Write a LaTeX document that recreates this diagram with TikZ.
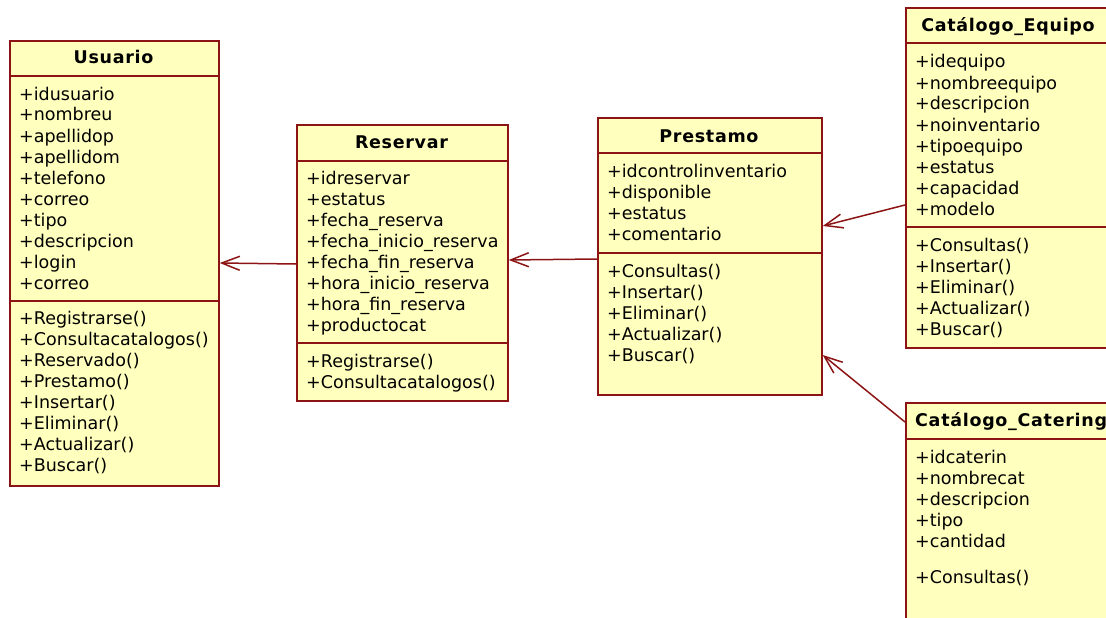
\documentclass[tikz,border=0pt]{standalone}
\usepackage{fontspec}
\setmainfont{DejaVu Sans}
\newfontfamily\titulofont{DejaVu Sans}[LetterSpace=4]
\usetikzlibrary{arrows.meta}
\definecolor{borde}{RGB}{140,20,20}
\definecolor{fondo}{RGB}{255,255,190}

\tikzset{
  clase/.style={draw=borde, fill=fondo, line width=1.7pt, anchor=north west, inner sep=0pt},
  titulo/.style={anchor=base, inner sep=0pt, font=\fontsize{17.5}{20}\titulofont\bfseries},
  campo/.style={anchor=base west, inner sep=0pt, font=\fontsize{17.5}{21}\selectfont},
  linea/.style={draw=borde, line width=1.4pt},
  asoc/.style={draw=borde, line width=1.5pt, -{Straight Barb[length=18pt,width=14pt]}}
}

\begin{document}
\begin{tikzpicture}[x=1pt,y=-1pt]
  \useasboundingbox (0,0) rectangle (1106,618);
  \clip (0,0) rectangle (1106,618);

  % Usuario
  \node[clase, minimum width=209pt, minimum height=445pt] (usuario) at (9,40) {};
  \node[titulo] at (113.5,64) {Usuario};
  \draw[linea] (usuario.west |- 0,76) -- (usuario.east |- 0,76);
  \draw[linea] (usuario.west |- 0,301) -- (usuario.east |- 0,301);
  \foreach \t [count=\i] in {idusuario, nombreu, apellidop, apellidom, telefono,
      correo, tipo, descripcion, login, correo}
    \node[campo] at (19,{100+21*(\i-1)}) {+\t};
  \foreach \t [count=\i] in {Registrarse(), Consultacatalogos(), Reservado(), Prestamo(),
      Insertar(), Eliminar(), Actualizar(), Buscar()}
    \node[campo] at (19,{324+21*(\i-1)}) {+\t};

  % Reservar
  \node[clase, minimum width=211pt, minimum height=276pt] (reservar) at (296,124) {};
  \node[titulo] at (401.5,148) {Reservar};
  \draw[linea] (reservar.west |- 0,161) -- (reservar.east |- 0,161);
  \draw[linea] (reservar.west |- 0,343) -- (reservar.east |- 0,343);
  \foreach \t [count=\i] in {idreservar, estatus, fecha\_reserva, fecha\_inicio\_reserva,
      fecha\_fin\_reserva, hora\_inicio\_reserva, hora\_fin\_reserva, productocat}
    \node[campo] at (306,{184+21*(\i-1)}) {+\t};
  \foreach \t [count=\i] in {Registrarse(), Consultacatalogos()}
    \node[campo] at (306,{367+21*(\i-1)}) {+\t};

  % Prestamo
  \node[clase, minimum width=224pt, minimum height=277pt] (prestamo) at (597,117) {};
  \node[titulo] at (709,142) {Prestamo};
  \draw[linea] (prestamo.west |- 0,153) -- (prestamo.east |- 0,153);
  \draw[linea] (prestamo.west |- 0,253) -- (prestamo.east |- 0,253);
  \foreach \t [count=\i] in {idcontrolinventario, disponible, estatus, comentario}
    \node[campo] at (607,{177+21*(\i-1)}) {+\t};
  \foreach \t [count=\i] in {Consultas(), Insertar(), Eliminar(), Actualizar(), Buscar()}
    \node[campo] at (607,{277+21*(\i-1)}) {+\t};

  % Catalogo de equipo
  \node[clase, minimum width=206pt, minimum height=340pt] (equipo) at (905,7) {};
  \node[titulo] at (1008,32) {Catálogo\_Equipo};
  \draw[linea] (equipo.west |- 0,43) -- (equipo.east |- 0,43);
  \draw[linea] (equipo.west |- 0,227) -- (equipo.east |- 0,227);
  \foreach \t [count=\i] in {idequipo, nombreequipo, descripcion, noinventario,
      tipoequipo, estatus, capacidad, modelo}
    \node[campo] at (915,{68+21*(\i-1)}) {+\t};
  \foreach \t [count=\i] in {Consultas(), Insertar(), Eliminar(), Actualizar(), Buscar()}
    \node[campo] at (915,{251+21*(\i-1)}) {+\t};

  % Catalogo de catering
  \node[clase, minimum width=230pt, minimum height=260pt] (catering) at (905,402) {};
  \node[titulo, anchor=base west] at (915,426) {Catálogo\_Catering};
  \draw[linea] (catering.west |- 0,439) -- (catering.east |- 0,439);
  \foreach \t [count=\i] in {idcaterin, nombrecat, descripcion, tipo, cantidad}
    \node[campo] at (915,{463+21*(\i-1)}) {+\t};
  \node[campo] at (915,583) {+Consultas()};

  % asociaciones
  \draw[asoc] ([yshift=-140pt]reservar.north west) -- ([yshift=-223pt]usuario.north east);
  \draw[asoc] ([yshift=-142pt]prestamo.north west) -- ([yshift=-136pt]reservar.north east);
  \draw[asoc] ([yshift=-198pt]equipo.north west) -- ([yshift=-109pt]prestamo.north east);
  \draw[asoc] ([yshift=-20pt]catering.north west) -- ([yshift=-238pt]prestamo.north east);
\end{tikzpicture}
\end{document}
